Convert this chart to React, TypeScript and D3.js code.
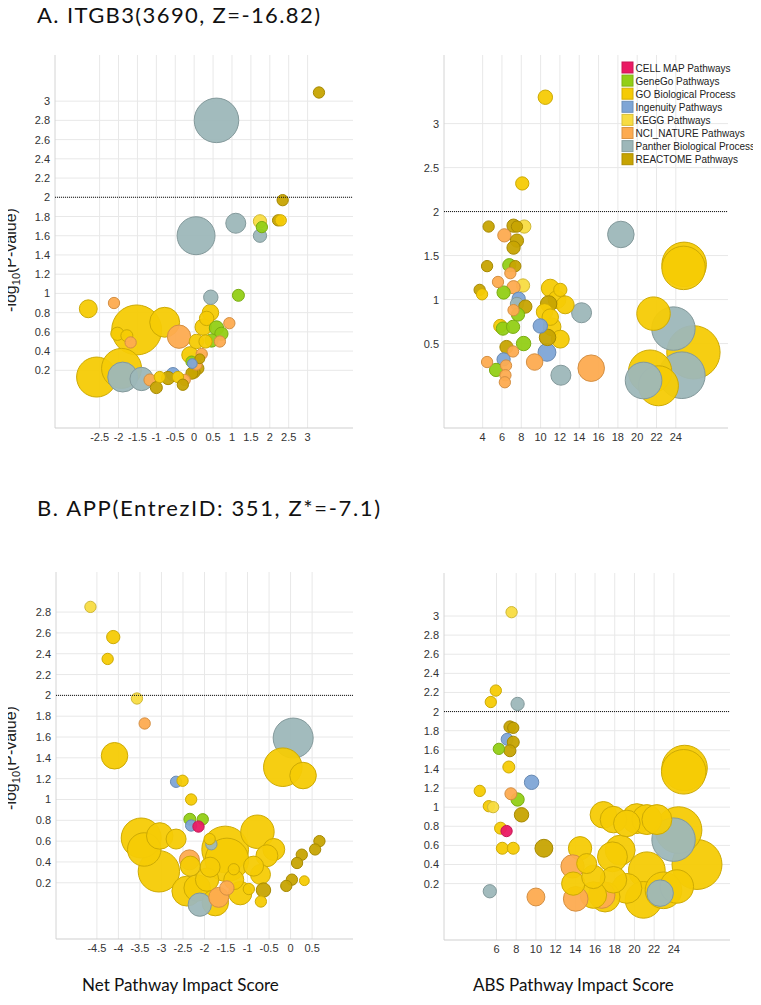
import { useRef, useEffect } from "react";
import * as d3 from "d3";

const categories = [
  "CELL MAP Pathways",
  "GeneGo Pathways",
  "GO Biological Process",
  "Ingenuity Pathways",
  "KEGG Pathways",
  "NCI_NATURE Pathways",
  "Panther Biological Process",
  "REACTOME Pathways",
];
const catColors = ["#ea1a64", "#92cf16", "#f5cb05", "#7ea5d6", "#f8dc42", "#fdab50", "#9db7b9", "#c7a402"];

// [score, -log10(p), gene count, category index]
const itgb3Net = [
  [3.3, 3.09, 8, 7], [0.59, 2.8, 124, 6], [2.34, 1.97, 8, 7], [0.05, 1.6, 90, 6],
  [1.1, 1.73, 25, 6], [1.74, 1.75, 11, 4], [1.79, 1.69, 8, 1], [1.74, 1.6, 11, 6],
  [2.22, 1.76, 8, 7], [2.29, 1.76, 8, 2], [0.44, 0.96, 13, 6], [1.17, 0.98, 9, 1],
  [-2.8, 0.84, 20, 2], [-2.12, 0.9, 8, 5], [-1.52, 0.62, 156, 2], [-0.78, 0.7, 56, 2],
  [-0.4, 0.55, 34, 5], [-2.03, 0.58, 11, 2], [-1.78, 0.56, 9, 2], [-1.68, 0.49, 8, 5],
  [0.43, 0.8, 17, 2], [0.33, 0.74, 13, 2], [0.24, 0.65, 17, 2], [0.59, 0.64, 13, 1],
  [0.72, 0.58, 11, 1], [0.93, 0.69, 8, 5], [0.68, 0.5, 8, 5], [0.46, 0.51, 11, 1],
  [0.06, 0.5, 13, 2], [0.3, 0.5, 11, 2], [-0.11, 0.36, 17, 2], [0.2, 0.37, 8, 5],
  [-0.07, 0.29, 8, 1], [0.06, 0.26, 8, 5], [0.15, 0.32, 6, 7], [-0.05, 0.27, 6, 3],
  [0.1, 0.22, 9, 7], [0.0, 0.18, 9, 7], [-2.58, 0.13, 100, 2], [-1.92, 0.22, 100, 2],
  [-1.89, 0.13, 56, 6], [-1.39, 0.11, 34, 6], [-0.56, 0.16, 11, 3], [-1.17, 0.1, 9, 5],
  [-0.25, 0.1, 8, 5], [-0.91, 0.13, 8, 2], [-0.69, 0.12, 11, 7], [-0.43, 0.13, 8, 2],
  [-0.06, 0.17, 9, 7], [-1.0, 0.02, 9, 7], [-0.3, 0.05, 8, 7],
];

const itgb3Abs = [
  [10.49, 3.3, 13, 2], [8.1, 2.32, 11, 2], [4.62, 1.83, 8, 7], [8.31, 1.83, 11, 4],
  [7.2, 1.84, 11, 7], [7.55, 1.83, 8, 7], [6.25, 1.73, 11, 5], [7.55, 1.67, 11, 7],
  [7.2, 1.59, 11, 7], [18.31, 1.74, 44, 6], [24.86, 1.4, 124, 2], [24.8, 1.36, 118, 2],
  [4.46, 1.38, 8, 7], [6.76, 1.39, 11, 1], [7.38, 1.38, 8, 7], [6.87, 1.3, 8, 5],
  [5.59, 1.2, 8, 5], [8.18, 1.16, 11, 4], [7.2, 1.14, 11, 5], [3.69, 1.11, 8, 7],
  [3.94, 1.06, 8, 2], [6.17, 1.08, 11, 1], [7.73, 1.01, 11, 3], [7.55, 0.95, 11, 6],
  [8.42, 0.92, 11, 7], [7.2, 0.88, 8, 5], [7.66, 0.83, 11, 1], [11.0, 1.13, 20, 2],
  [12.04, 1.11, 11, 2], [11.7, 1.0, 20, 2], [12.55, 0.94, 20, 2], [10.83, 0.95, 17, 7],
  [14.24, 0.85, 25, 6], [10.41, 0.86, 17, 2], [11.0, 0.8, 17, 2], [11.18, 0.69, 20, 2],
  [9.97, 0.7, 13, 3], [12.04, 0.55, 20, 2], [10.72, 0.57, 17, 7], [21.69, 0.84, 70, 2],
  [23.75, 0.67, 118, 6], [25.82, 0.4, 178, 2], [5.83, 0.7, 11, 2], [6.1, 0.67, 11, 1],
  [7.15, 0.69, 11, 1], [8.24, 0.5, 13, 1], [6.47, 0.46, 11, 7], [7.15, 0.41, 8, 5],
  [6.17, 0.32, 11, 3], [4.46, 0.29, 8, 5], [5.39, 0.2, 11, 1], [6.42, 0.25, 8, 5],
  [9.38, 0.29, 17, 5], [10.66, 0.4, 20, 3], [12.1, 0.14, 25, 6], [15.24, 0.22, 44, 5],
  [21.34, 0.18, 118, 2], [20.66, 0.08, 84, 6], [24.62, 0.14, 136, 6], [6.36, 0.14, 8, 5],
  [22.2, 0.02, 100, 2], [6.3, 0.06, 8, 5],
];

const appNet = [
  [-4.65, 2.85, 8, 4], [-4.12, 2.56, 11, 2], [-4.25, 2.35, 8, 2], [-3.57, 1.97, 8, 4],
  [-3.39, 1.73, 8, 5], [-4.09, 1.42, 44, 2], [0.06, 1.59, 100, 6], [-0.18, 1.31, 93, 2],
  [0.29, 1.23, 44, 2], [-2.66, 1.17, 8, 3], [-2.51, 1.18, 8, 2], [-2.31, 1.0, 8, 2],
  [-2.31, 0.75, 8, 3], [-2.34, 0.81, 9, 1], [-2.04, 0.81, 8, 1], [-2.14, 0.74, 8, 0],
  [-3.47, 0.63, 100, 2], [-3.4, 0.52, 70, 2], [-3.04, 0.65, 44, 2], [-2.66, 0.62, 25, 2],
  [-3.06, 0.31, 107, 2], [-1.84, 0.57, 8, 6], [-1.88, 0.62, 8, 2], [-2.35, 0.42, 25, 5],
  [-1.52, 0.52, 136, 2], [-1.48, 0.42, 118, 2], [-0.77, 0.69, 70, 2], [-0.39, 0.52, 30, 2],
  [-0.55, 0.46, 30, 2], [-0.7, 0.28, 25, 2], [0.67, 0.6, 8, 7], [0.57, 0.52, 8, 7],
  [0.26, 0.47, 8, 7], [0.15, 0.39, 8, 7], [0.03, 0.23, 8, 7], [-0.1, 0.17, 8, 7],
  [0.32, 0.22, 6, 2], [-0.63, 0.13, 13, 7], [-0.69, 0.02, 8, 2], [-0.97, 0.14, 8, 2],
  [-2.17, 0.15, 44, 2], [-1.48, 0.15, 13, 5], [-1.67, 0.06, 25, 5], [-1.75, 0.01, 44, 2],
  [-2.11, -0.01, 34, 6], [-2.41, 0.12, 56, 2], [-1.32, 0.23, 25, 2], [-1.32, 0.33, 8, 2],
  [-1.17, 0.1, 34, 2], [-1.94, 0.23, 34, 2], [-0.86, 0.36, 25, 2], [-1.87, 0.35, 25, 2],
  [-2.33, 0.36, 25, 2],
];

const appAbs = [
  [7.53, 3.04, 8, 4], [5.93, 2.22, 8, 2], [5.42, 2.1, 8, 2], [8.14, 2.08, 11, 6],
  [7.36, 1.84, 9, 7], [7.7, 1.83, 8, 7], [7.08, 1.71, 9, 3], [7.7, 1.68, 9, 7],
  [7.36, 1.59, 9, 7], [6.24, 1.61, 8, 1], [7.25, 1.42, 9, 2], [9.56, 1.26, 13, 3],
  [4.3, 1.17, 8, 2], [7.46, 1.14, 9, 5], [8.14, 1.08, 11, 1], [5.22, 1.01, 8, 2],
  [5.66, 1.0, 8, 4], [8.54, 0.92, 13, 7], [6.41, 0.78, 9, 2], [7.02, 0.75, 8, 0],
  [6.59, 0.57, 9, 2], [7.7, 0.57, 9, 2], [10.81, 0.57, 20, 7], [5.32, 0.12, 11, 6],
  [10.0, 0.06, 20, 5], [25.09, 1.41, 129, 2], [25.0, 1.37, 124, 2], [16.85, 0.92, 44, 2],
  [17.87, 0.87, 44, 2], [19.23, 0.83, 44, 2], [20.24, 0.88, 56, 2], [21.26, 0.87, 56, 2],
  [22.28, 0.87, 56, 2], [24.48, 0.76, 136, 2], [23.97, 0.66, 118, 6], [26.35, 0.4, 156, 2],
  [18.55, 0.55, 56, 2], [17.77, 0.48, 56, 2], [14.48, 0.57, 34, 2], [13.72, 0.38, 34, 5],
  [13.79, 0.2, 34, 2], [14.04, 0.04, 38, 5], [15.83, 0.27, 34, 2], [15.15, 0.41, 25, 2],
  [21.26, 0.34, 84, 2], [20.92, 0.03, 84, 2], [22.61, 0.1, 44, 6], [22.95, 0.13, 84, 2],
  [19.23, 0.15, 56, 2], [17.02, 0.06, 56, 2], [16.68, 0.08, 44, 5], [17.87, 0.24, 44, 2],
  [24.3, 0.17, 70, 2], [15.83, 0.08, 44, 2],
];

const itgb3NetXTicks = [-2.5, -2, -1.5, -1, -0.5, 0, 0.5, 1, 1.5, 2, 2.5, 3];
const itgb3NetYTicks = [0.2, 0.4, 0.6, 0.8, 1, 1.2, 1.4, 1.6, 1.8, 2, 2.2, 2.4, 2.6, 2.8, 3];
const itgb3AbsXTicks = [4, 6, 8, 10, 12, 14, 16, 18, 20, 22, 24];
const itgb3AbsYTicks = [0.5, 1, 1.5, 2, 2.5, 3];
const appNetXTicks = [-4.5, -4, -3.5, -3, -2.5, -2, -1.5, -1, -0.5, 0, 0.5];
const appNetYTicks = [0.2, 0.4, 0.6, 0.8, 1, 1.2, 1.4, 1.6, 1.8, 2, 2.2, 2.4, 2.6, 2.8];
const appAbsXTicks = [6, 8, 10, 12, 14, 16, 18, 20, 22, 24];
const appAbsYTicks = [0.2, 0.4, 0.6, 0.8, 1, 1.2, 1.4, 1.6, 1.8, 2, 2.2, 2.4, 2.6, 2.8, 3];

const threshold = 2;

const App = () => {
  const ref = useRef(null);

  useEffect(() => {
    const width = 761;
    const height = 1005;
    const svg = d3
      .select(ref.current)
      .html("")
      .append("svg")
      .attr("width", width)
      .attr("height", height)
      .style("display", "block");

    const tickFont = "'Liberation Sans', Arial, sans-serif";
    const titleFont = "Lato, 'Open Sans', sans-serif";
    const size = d3.scaleSqrt().domain([0, 400]).range([0, 40]);

    const panels = [
      { data: itgb3Net, xt: itgb3NetXTicks, yt: itgb3NetYTicks, xd: [-3.68, 4.2], yd: [-0.4, 3.48], l: 55, r: 353, t: 55, b: 428 },
      { data: itgb3Abs, xt: itgb3AbsXTicks, yt: itgb3AbsYTicks, xd: [0, 29.4], yd: [-0.46, 3.78], l: 444, r: 728, t: 55, b: 428 },
      { data: appNet, xt: appNetXTicks, yt: appNetYTicks, xd: [-5.45, 1.45], yd: [-0.34, 3.185], l: 56, r: 353, t: 572, b: 939 },
      { data: appAbs, xt: appAbsXTicks, yt: appAbsYTicks, xd: [0.67, 29.7], yd: [-0.39, 3.45], l: 444, r: 730, t: 573, b: 940 },
    ];

    panels.forEach((p) => {
      const x = d3.scaleLinear().domain(p.xd).range([p.l, p.r]);
      const y = d3.scaleLinear().domain(p.yd).range([p.b, p.t]);
      const g = svg.append("g");

      // grid
      g.selectAll(".vg")
        .data(p.xt)
        .enter()
        .append("line")
        .attr("x1", (d) => x(d))
        .attr("x2", (d) => x(d))
        .attr("y1", p.t)
        .attr("y2", p.b)
        .attr("stroke", "#e8e8e8");
      g.selectAll(".hg")
        .data(p.yt)
        .enter()
        .append("line")
        .attr("x1", p.l)
        .attr("x2", p.r)
        .attr("y1", (d) => y(d))
        .attr("y2", (d) => y(d))
        .attr("stroke", "#e8e8e8");

      // axis lines
      g.append("line").attr("x1", p.l).attr("x2", p.l).attr("y1", p.t).attr("y2", p.b).attr("stroke", "#d4d4d4");
      g.append("line").attr("x1", p.l).attr("x2", p.r).attr("y1", p.b).attr("y2", p.b).attr("stroke", "#cfcfcf");

      // tick labels
      g.selectAll(".xl")
        .data(p.xt)
        .enter()
        .append("text")
        .attr("x", (d) => x(d))
        .attr("y", p.b + 13)
        .attr("text-anchor", "middle")
        .attr("font-family", tickFont)
        .attr("font-size", 11)
        .attr("fill", "#333")
        .text((d) => String(d));
      g.selectAll(".yl")
        .data(p.yt)
        .enter()
        .append("text")
        .attr("x", p.l - 5)
        .attr("y", (d) => y(d) + 4)
        .attr("text-anchor", "end")
        .attr("font-family", tickFont)
        .attr("font-size", 11)
        .attr("fill", "#333")
        .text((d) => String(d));

      // bubbles, big ones first
      const rows = p.data.slice().sort((a, b) => b[2] - a[2]);
      g.selectAll("circle")
        .data(rows)
        .enter()
        .append("circle")
        .attr("cx", (d) => x(d[0]))
        .attr("cy", (d) => y(d[1]))
        .attr("r", (d) => size(d[2]))
        .attr("fill", (d) => catColors[d[3]])
        .attr("fill-opacity", 0.95)
        .attr("stroke", (d) => d3.color(catColors[d[3]]).darker(0.5).formatHex())
        .attr("stroke-width", 1);

      // significance line
      g.append("line")
        .attr("x1", p.l)
        .attr("x2", p.r)
        .attr("y1", y(threshold))
        .attr("y2", y(threshold))
        .attr("stroke", "#111")
        .attr("stroke-width", 1)
        .attr("stroke-dasharray", "1,1");
    });

    // y axis titles
    [260, 758].forEach((cy) => {
      const t = svg
        .append("text")
        .attr("transform", `translate(16,${cy}) rotate(-90)`)
        .attr("text-anchor", "middle")
        .attr("font-family", tickFont)
        .attr("font-size", 16)
        .attr("fill", "#222");
      t.append("tspan").text("-log");
      t.append("tspan").attr("font-size", 11).attr("dy", 4).text("10");
      t.append("tspan").attr("dy", -4).text("(P-value)");
    });

    // panel titles
    svg.append("text").attr("x", 37).attr("y", 23).attr("font-family", titleFont).attr("font-size", 22)
      .attr("textLength", 283).attr("lengthAdjust", "spacing")
      .attr("fill", "#111").text("A. ITGB3(3690, Z=-16.82)");
    svg.append("text").attr("x", 37).attr("y", 516).attr("font-family", titleFont).attr("font-size", 22)
      .attr("textLength", 343).attr("lengthAdjust", "spacing")
      .attr("fill", "#111").text("B. APP(EntrezID: 351, Z*=-7.1)");

    // x axis titles
    svg.append("text").attr("x", 82).attr("y", 991).attr("font-family", titleFont).attr("font-size", 17)
      .attr("fill", "#111").text("Net Pathway Impact Score");
    svg.append("text").attr("x", 473).attr("y", 991).attr("font-family", titleFont).attr("font-size", 17)
      .attr("fill", "#111").text("ABS Pathway Impact Score");

    // legend
    const legend = svg.append("g").attr("transform", "translate(622,62)");
    const items = legend
      .selectAll("g")
      .data(categories)
      .enter()
      .append("g")
      .attr("transform", (d, i) => `translate(0,${i * 13.1})`);
    items
      .append("rect")
      .attr("width", 11)
      .attr("height", 11)
      .attr("fill", (d, i) => catColors[i])
      .attr("stroke", (d, i) => d3.color(catColors[i]).darker(0.4).formatHex());
    items
      .append("text")
      .attr("x", 13.5)
      .attr("y", 9.5)
      .attr("font-family", tickFont)
      .attr("font-size", 10)
      .attr("fill", "#222")
      .text((d) => d);
  }, []);

  return <div ref={ref} style={{ margin: -8 }} />;
};

export default App;
